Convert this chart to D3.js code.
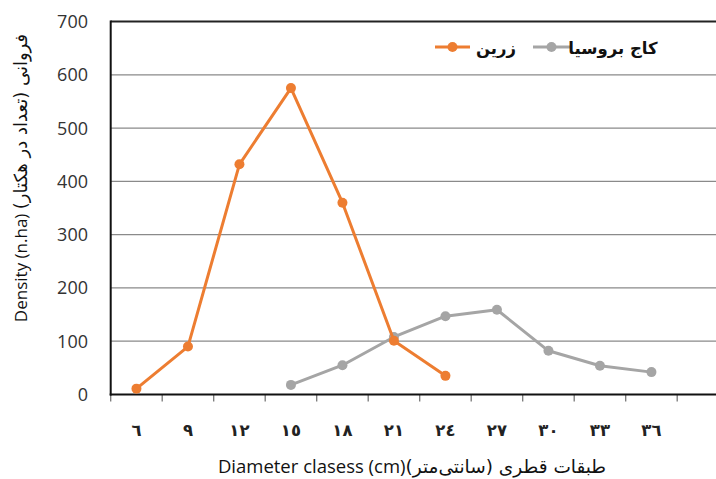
<!DOCTYPE html>
<html>
<head>
<meta charset="utf-8">
<script src="https://cdn.jsdelivr.net/npm/d3@7"></script>
<style>
  html, body { margin: 0; padding: 0; background: #fff; }
  svg { display: block; font-family: "Open Sans", "DejaVu Sans", sans-serif; }
</style>
</head>
<body>
<svg id="chart" width="716" height="479"></svg>
<script>
// Diameter classes (cm); the last slot is left empty on the axis
const classes = ["٦", "٩", "١٢", "١٥", "١٨", "٢١", "٢٤", "٢٧", "٣٠", "٣٣", "٣٦", ""];
const classKeys = [6, 9, 12, 15, 18, 21, 24, 27, 30, 33, 36, 39];

// Stand density (trees per hectare) for each diameter class
const zarrinClasses = [6, 9, 12, 15, 18, 21, 24];
const zarrinValues  = [11, 90, 432, 575, 360, 101, 35];

const pineClasses = [15, 18, 21, 24, 27, 30, 33, 36];
const pineValues  = [18, 55, 108, 147, 159, 82, 54, 42];

const yTicks = [0, 100, 200, 300, 400, 500, 600, 700];

const seriesNames = ["زرین", "کاج بروسیا"];
const seriesColors = ["#ED7D31", "#A5A5A5"];

const svg = d3.select("#chart");

const plotLeft = 110.7, plotTop = 21.5, plotBottom = 394.5, band = 51.5;

const x = d3.scaleBand()
  .domain(classKeys)
  .range([plotLeft, plotLeft + band * classKeys.length])
  .paddingInner(0).paddingOuter(0);

const y = d3.scaleLinear().domain([0, 700]).range([plotBottom, plotTop]);

// horizontal gridlines
svg.append("g")
  .selectAll("line")
  .data(yTicks.filter(d => d > 0 && d < 700))
  .join("line")
  .attr("x1", plotLeft).attr("x2", 716)
  .attr("y1", d => y(d)).attr("y2", d => y(d))
  .attr("stroke", "#8a8a8a").attr("stroke-width", 1.3);

// top frame line
svg.append("line")
  .attr("x1", plotLeft).attr("x2", 716)
  .attr("y1", y(700)).attr("y2", y(700))
  .attr("stroke", "#222").attr("stroke-width", 1.8);

// y axis labels
svg.append("g")
  .selectAll("text")
  .data(yTicks)
  .join("text")
  .attr("x", 88)
  .attr("y", d => y(d) + 6.5)
  .attr("text-anchor", "end")
  .attr("font-size", 18)
  .attr("fill", "#333")
  .text(d => d);

// x tick marks at band boundaries
const boundaries = classKeys.map(k => x(k)).concat([x(classKeys[classKeys.length - 1]) + band]);
svg.append("g")
  .selectAll("line")
  .data(boundaries)
  .join("line")
  .attr("x1", d => d).attr("x2", d => d)
  .attr("y1", plotBottom).attr("y2", plotBottom + 7)
  .attr("stroke", "#777").attr("stroke-width", 1.3);

// axis lines
svg.append("line")
  .attr("x1", plotLeft).attr("x2", plotLeft)
  .attr("y1", plotTop - 0.9).attr("y2", plotBottom + 1)
  .attr("stroke", "#111").attr("stroke-width", 2);
svg.append("line")
  .attr("x1", plotLeft - 1).attr("x2", 716)
  .attr("y1", plotBottom).attr("y2", plotBottom)
  .attr("stroke", "#111").attr("stroke-width", 2);

// x category labels
svg.append("g")
  .selectAll("text")
  .data(classKeys)
  .join("text")
  .attr("x", d => x(d) + band / 2)
  .attr("y", 436)
  .attr("text-anchor", "middle")
  .attr("font-size", 16.5)
  .attr("font-weight", "bold")
  .attr("font-family", "DejaVu Sans, sans-serif")
  .attr("fill", "#222")
  .text((d, i) => classes[i]);

// axis titles
const xTitle = svg.append("text")
  .attr("x", 412).attr("y", 473)
  .attr("text-anchor", "middle")
  .attr("font-size", 18.5)
  .attr("fill", "#111");
xTitle.append("tspan").text("Diameter clasess (cm)");
xTitle.append("tspan").attr("font-size", 18.5).attr("font-family", "DejaVu Sans, sans-serif")
  .text("طبقات قطری (سانتی‌متر)");

const yTitle = svg.append("text")
  .attr("transform", "translate(27,178) rotate(-90)")
  .attr("text-anchor", "middle")
  .attr("font-size", 17)
  .attr("fill", "#111");
yTitle.append("tspan").text("Density (n.ha) ");
yTitle.append("tspan").attr("font-size", 18).attr("font-family", "DejaVu Sans, sans-serif")
  .text("فروانی (تعداد در هکتار)");

// series lines and markers
const line = d3.line().x(d => x(d[0]) + band / 2).y(d => y(d[1]));
const series = [
  zarrinClasses.map((c, i) => [c, zarrinValues[i]]),
  pineClasses.map((c, i) => [c, pineValues[i]])
];

[1, 0].forEach(si => {
  const g = svg.append("g");
  g.append("path")
    .datum(series[si])
    .attr("d", line)
    .attr("fill", "none")
    .attr("stroke", seriesColors[si])
    .attr("stroke-width", 3)
    .attr("stroke-linejoin", "round");
  g.selectAll("circle")
    .data(series[si])
    .join("circle")
    .attr("cx", d => x(d[0]) + band / 2)
    .attr("cy", d => y(d[1]))
    .attr("r", 5)
    .attr("fill", seriesColors[si]);
});

// legend
const legendItems = [
  { x1: 435, x2: 470, tx: 496, name: seriesNames[0], color: seriesColors[0] },
  { x1: 533, x2: 570, tx: 613, name: seriesNames[1], color: seriesColors[1] }
];
const lg = svg.append("g");
legendItems.forEach(it => {
  lg.append("line")
    .attr("x1", it.x1).attr("x2", it.x2)
    .attr("y1", 47).attr("y2", 47)
    .attr("stroke", it.color).attr("stroke-width", 3);
  lg.append("circle")
    .attr("cx", (it.x1 + it.x2) / 2).attr("cy", 47)
    .attr("r", 5).attr("fill", it.color);
  lg.append("text")
    .attr("x", it.tx).attr("y", 54)
    .attr("text-anchor", "middle")
    .attr("font-size", 16.5)
    .attr("font-weight", "bold")
    .attr("font-family", "DejaVu Sans, sans-serif")
    .attr("fill", "#111")
    .text(it.name);
});
</script>
</body>
</html>
